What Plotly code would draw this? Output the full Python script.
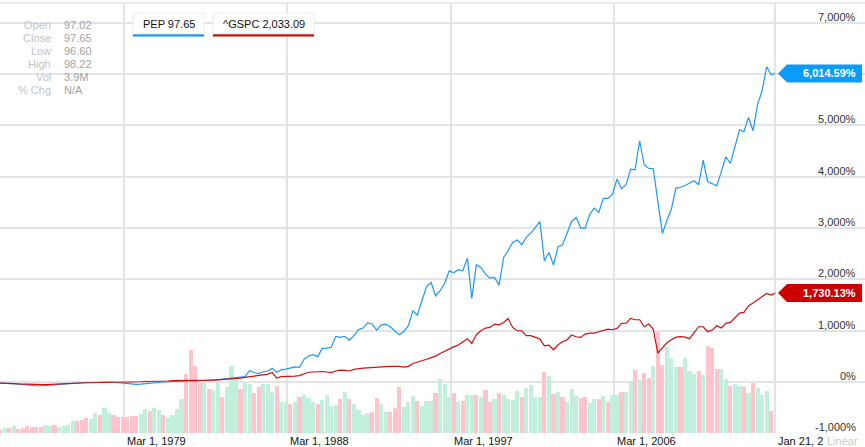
import plotly.graph_objects as go
import pandas as pd

# ---------------- data ----------------
# quarterly observation dates (first trading month of Feb/May/Aug/Nov) + last quote date
bar_dates = list(pd.date_range('1972-05-01', '2014-11-01', freq='3MS'))
line_dates = bar_dates + [pd.Timestamp('2015-01-21')]

# % change since start, PEP
pep_pct = [
    -25, -25, -25, -35, -45, -55, -65, -75, -78, -78,
    -75, -70, -60, -50, -40, -30, -25, -25, -20, -15,
    -10, -10, -5, -5, -5, -10, -20, -30, -40, -50,
    -50, -45, -35, -25, -15, -10, -5, 0, 5, 8,
    10, 13, 15, 15, 18, 20, 25, 30, 40, 50,
    60, 65, 75, 85, 100, 220, 175, 160, 195, 210,
    265, 180, 235, 245, 260, 290, 280, 440, 500, 527,
    490, 650, 655, 670, 885, 865, 885, 813, 900, 1015,
    1048, 1150, 1126, 1008, 1106, 1126, 1073, 1000, 917, 980,
    1093, 1385, 1301, 1580, 1854, 1938, 1678, 1776, 1918, 2166,
    2127, 2185, 2166, 2413, 1626, 2283, 2230, 2101, 2023, 2035,
    1886, 2426, 2556, 2718, 2765, 2673, 2816, 2901, 3011, 3122,
    2361, 2523, 2277, 2634, 2667, 2913, 3128, 3206, 2999, 2999,
    3272, 3389, 3304, 3577, 3577, 3662, 3955, 3766, 3844, 4150,
    4137, 4702, 4234, 4162, 4156, 3525, 2894, 3150, 3370, 3779,
    3795, 3830, 3869, 3922, 3844, 4326, 3908, 3870, 3824, 4100,
    4390, 4260, 4600, 4917, 4878, 5157, 4898, 5418, 5678, 6146,
    5990, 6014.59,
]

# % change since start, ^GSPC
gspc_pct = [
    -25, -25, -30, -35, -40, -45, -50, -55, -60, -60,
    -55, -50, -45, -40, -35, -30, -30, -25, -25, -20,
    -20, -15, -15, -15, -15, -10, -10, -10, -5, -5,
    0, 0, 5, 5, 10, 10, 15, 15, 20, 20,
    20, 20, 25, 25, 25, 30, 30, 30, 35, 40,
    45, 50, 60, 70, 85, 100, 110, 115, 130, 150,
    180, 70, 100, 100, 105, 110, 120, 150, 185, 190,
    195, 200, 190, 180, 210, 228, 220, 210, 240, 260,
    265, 270, 280, 285, 293, 295, 300, 300, 300, 285,
    300, 357, 380, 410, 440, 470, 500, 553, 600, 650,
    680, 716, 780, 840, 747, 917, 995, 1048, 1060, 1126,
    1112, 1157, 1235, 1060, 995, 995, 898, 898, 865, 833,
    702, 716, 624, 722, 780, 820, 911, 878, 865, 930,
    950, 950, 976, 1008, 1028, 1015, 1040, 1138, 1145, 1235,
    1210, 1210, 1073, 1126, 1028, 560, 660, 760, 820, 870,
    880, 870, 840, 962, 1073, 1073, 976, 1008, 1093, 1048,
    1138, 1157, 1255, 1340, 1352, 1483, 1535, 1594, 1659, 1723,
    1692, 1730.13,
]

# PEP volume per quarter (relative units)
volume = [
    2.7, 5, 5, 7, 4.3, 5.3, 6.7, 6.3, 6.3, 6.3,
    7.7, 7.3, 7.7, 6, 6.7, 7.7, 11.7, 11.7, 12.7, 14.7,
    14.3, 19.7, 18, 25.3, 20, 17.7, 16.3, 16.3, 16.3, 16.7,
    16.7, 19.3, 24, 21.7, 25, 22.7, 18.3, 15.3, 18, 23.7,
    34, 59, 83, 67, 50, 50, 44, 43, 52, 36,
    46, 67, 53, 44, 50, 48.7, 39.7, 46, 49, 48.7,
    41, 47, 31, 30.7, 29.3, 31, 36.3, 38, 35.3, 31,
    29.3, 32.7, 38, 26.7, 27.7, 33.7, 41, 34, 29.3, 23.3,
    18.3, 20.3, 21, 34.7, 29.3, 21, 21, 25, 46, 26,
    31, 36.7, 31.7, 26.7, 31.7, 31.7, 40.3, 54, 49.3, 36,
    39.7, 31, 32, 38, 38, 38, 36, 42.7, 31, 34.3,
    39.7, 37.7, 34.3, 33, 42.3, 36.3, 44.7, 48, 36.3, 36,
    60.7, 56.7, 39.3, 41, 36, 31, 43.7, 37.3, 34.7, 36.3,
    30.3, 34, 34, 37, 31, 38, 38, 41.3, 41.3, 51.7,
    63, 53, 60.3, 55.3, 66.7, 101, 68.3, 85.7, 74.7, 66.3,
    66.3, 75, 62, 58.7, 62, 57.7, 87.3, 85, 64, 64,
    54, 47, 49.3, 47.3, 46.3, 40.3, 50, 45.3, 38, 41.7,
    22.3,
]

# U = up quarter, D = down quarter
vol_dir = list(
    "DUDUDDDDDD" "UUDUUUUDDD" "UUDUUDDDDD" "DUUDUUDUUU" "UDDDDUDUUD"
    "UUUDUUDDUU" "UDUUDUDUUU" "DUUUUDUDUU" "UUDDUUDDDU" "UUDUUUDUUU"
    "DUDUUDUDDU" "DUUUUDUUUU" "DUDUDUUUDD" "UUDUDUUDUU" "DUDDUDDUUU"
    "DUUUDUDDDU" "UDUUDUDUUU" "D"
)

x_tick_dates = ['1979-03-01', '1988-03-01', '1997-03-01', '2006-03-01', '2015-01-21']
# last label is cut off by the "Linear" switch in the original
x_tick_text = ['Mar 1, 1979', 'Mar 1, 1988', 'Mar 1, 1997', 'Mar 1, 2006', 'Jan 21, 2']
y_ticks = [-1000, 0, 1000, 2000, 3000, 4000, 5000, 6000, 7000]

info_labels = ['Open', 'Close', 'Low', 'High', 'Vol', '% Chg']
info_values = ['97.02', '97.65', '96.60', '98.22', '3.9M', 'N/A']

series_names = ['PEP 97.65', '^GSPC 2,033.09']

# ---------------- styling / layout ----------------
W, H = 865, 447
MT, MB = 3, 14
Y_MIN, Y_MAX = -1000, 7390
FONT = 'Liberation Sans, Arial, sans-serif'
BLUE = '#1e98f0'
RED = '#cc1111'
GRID = '#e3e3ea'
PINK = '#ffc3cc'
MINT = '#c0f0db'
PX_PER_UNIT = (H - MT - MB) / (Y_MAX - Y_MIN)
half = 9 / PX_PER_UNIT  # half height of the end-value flags, in axis units


def xp(px):
    return px / W


def yp(py):
    return (H - MB - py) / (H - MT - MB)


fig = go.Figure()

fig.add_trace(go.Bar(
    x=bar_dates, y=volume, yaxis='y',
    marker=dict(color=[MINT if d == 'U' else PINK for d in vol_dir], line=dict(width=0)),
    width=82 * 86400000, showlegend=False, hoverinfo='skip'))

fig.add_trace(go.Scatter(x=line_dates, y=pep_pct, yaxis='y2', mode='lines',
                         line=dict(color=BLUE, width=1.2), showlegend=False))
fig.add_trace(go.Scatter(x=line_dates, y=gspc_pct, yaxis='y2', mode='lines',
                         line=dict(color=RED, width=1.2), showlegend=False))

annotations = []
shapes = []

flag_values = [pep_pct[-1], gspc_pct[-1]]

# y tick labels (right, above the gridline); those hidden behind a flag are not drawn
for v in y_ticks:
    label_center = v + 7 / PX_PER_UNIT
    if any(abs(label_center - f) < half + 4 / PX_PER_UNIT for f in flag_values):
        continue
    annotations.append(dict(
        x=xp(858), xref='paper', y=v, yref='y2', xanchor='right', yanchor='bottom',
        yshift=-2, text=f"{v:,}%", showarrow=False,
        font=dict(family=FONT, size=11, color='#333333')))

# x tick labels (left aligned at gridline)
for d, t in zip(x_tick_dates, x_tick_text):
    annotations.append(dict(
        x=d, xref='x', y=0, yref='paper', xanchor='left', yanchor='top',
        xshift=1, text=t, showarrow=False,
        font=dict(family=FONT, size=11, color='#111111')))

annotations.append(dict(
    x=xp(825), xref='paper', y=0, yref='paper', xanchor='left', yanchor='top',
    text='Linear', showarrow=False,
    font=dict(family=FONT, size=11, color='#c8c8c8')))

# info block
for i, (lab, val) in enumerate(zip(info_labels, info_values)):
    py = 25 + i * 13
    annotations.append(dict(x=xp(53), xref='paper', y=yp(py), yref='paper',
                            xanchor='right', yanchor='middle', text=lab, showarrow=False,
                            font=dict(family=FONT, size=11, color='#c3c3c3')))
    annotations.append(dict(x=xp(62), xref='paper', y=yp(py), yref='paper',
                            xanchor='left', yanchor='middle', text=val, showarrow=False,
                            font=dict(family=FONT, size=11, color='#a3a3a3')))

# legend boxes
for (x0, x1), name, col in zip([(133, 204), (213, 314)], series_names, [BLUE, RED]):
    shapes.append(dict(type='rect', xref='paper', yref='paper', layer='above',
                       x0=xp(x0), x1=xp(x1), y0=yp(36.5), y1=yp(13),
                       fillcolor='white', line=dict(color='#ececec', width=1)))
    shapes.append(dict(type='rect', xref='paper', yref='paper', layer='above',
                       x0=xp(x0), x1=xp(x1), y0=yp(36.5), y1=yp(34.2),
                       fillcolor=col, line=dict(width=0)))
    annotations.append(dict(x=xp((x0 + x1) / 2), xref='paper', y=yp(24), yref='paper',
                            xanchor='center', yanchor='middle', text=name, showarrow=False,
                            font=dict(family=FONT, size=11, color='#111111')))

# end-value flags
for v, col in zip(flag_values, ['#0a9cfa', '#cc0000']):
    path = (f"M {xp(778)},{v} L {xp(787)},{v + half} L {xp(862)},{v + half} "
            f"L {xp(862)},{v - half} L {xp(787)},{v - half} Z")
    shapes.append(dict(type='path', xref='paper', yref='y2', path=path,
                       fillcolor=col, line=dict(width=0), layer='above'))
    annotations.append(dict(x=xp(858), xref='paper', y=v, yref='y2',
                            xanchor='right', yanchor='middle', text=f"<b>{v:,.2f}%</b>",
                            showarrow=False, font=dict(family=FONT, size=11, color='white')))

# top border
shapes.append(dict(type='line', xref='paper', yref='paper', x0=0, x1=1, y0=1, y1=1,
                   line=dict(color=GRID, width=1.5), layer='below'))

fig.update_layout(
    width=W, height=H,
    margin=dict(l=0, r=0, t=MT, b=MB, pad=0),
    paper_bgcolor='white', plot_bgcolor='white',
    showlegend=False, bargap=0,
    xaxis=dict(type='date', range=['1972-04-29', '2020-01-02'],
               tickvals=x_tick_dates, showticklabels=False, ticks='',
               showgrid=True, gridcolor=GRID, gridwidth=1.5,
               zeroline=False, showline=False, fixedrange=True),
    yaxis=dict(range=[0, 430], visible=False, showgrid=False, fixedrange=True),
    yaxis2=dict(overlaying='y', side='right', range=[Y_MIN, Y_MAX],
                tickvals=y_ticks, showticklabels=False, ticks='',
                showgrid=True, gridcolor=GRID, gridwidth=1.5,
                zeroline=False, showline=False, fixedrange=True),
    annotations=annotations, shapes=shapes,
    font=dict(family=FONT),
)

fig.write_html("out.html")
